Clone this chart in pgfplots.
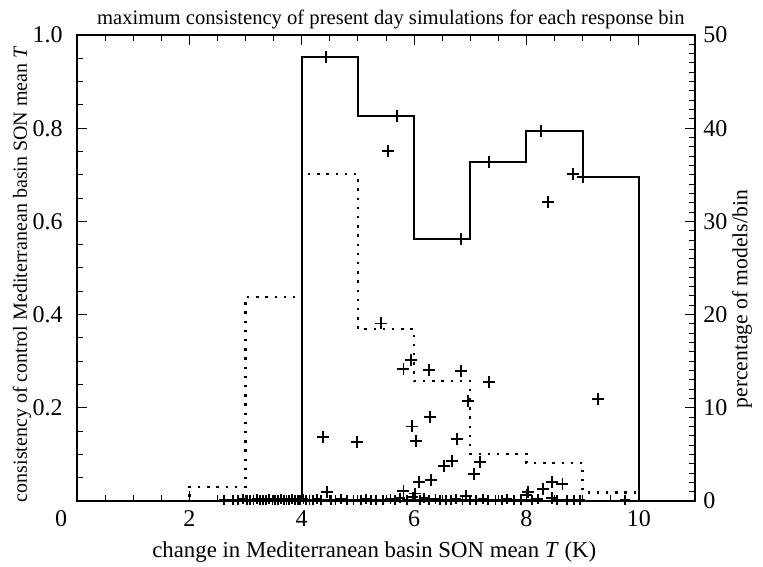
\documentclass[border=0pt]{standalone}
\usepackage{pgfplots}
\pgfplotsset{compat=1.18}
\usepackage{fontspec}
\setmainfont{Liberation Serif}
\begin{document}
\fontsize{11}{13}\selectfont
\begin{tikzpicture}
\useasboundingbox (-38.5pt,-32.5pt) rectangle (343pt,250.5pt);
\pgfplotsset{
  common/.style={
    width=309pt, height=233pt, scale only axis,
    at={(0,0)}, anchor=south west,
    xmin=0, xmax=11,
    tick align=inside,
    major tick length=5pt, minor tick length=3pt,
    every tick/.style={black, line width=0.5pt},
    axis line style={line width=0.7pt},
    /pgf/number format/assume math mode=true,
    tick label style={font=\fontsize{12}{14}\selectfont},
  }
}
\begin{axis}[common,
  ymin=0, ymax=1,
  xtick={0,2,4,6,8,10},
  xticklabels={\makebox[0pt][r]{0\kern5pt},2,4,6,8,10},
  minor x tick num=3,
  xtick pos=both,
  xticklabel style={anchor=base, yshift=-12.5pt},
  ytick={0,0.2,0.4,0.6,0.8,1.0},
  yticklabels={,0.2,0.4,0.6,0.8,1.0},
  yticklabel style={anchor=east, inner sep=0pt, xshift=-7pt},
  minor y tick num=3,
  ytick pos=left,
  xlabel={change in Mediterranean basin SON mean \textit{T} (K)},
  xlabel style={font=\fontsize{11.4}{13}\selectfont, at={(0.481,0)}, anchor=base, yshift=-28pt},
  ylabel={consistency of control Mediterranean basin SON mean \textit{T}},
  ylabel style={font=\fontsize{10}{12}\selectfont, at={(0,0.487)}, anchor=center, yshift=27.5pt},
  title={maximum consistency of present day simulations for each response bin},
  every axis title shift=0pt,
  title style={font=\fontsize{10.3}{12}\selectfont, at={(0.508,1)}, anchor=base, yshift=5pt},
  clip=false,
]
% solid histogram: maximum consistency per bin
\addplot[black, line width=1pt, mark=none] coordinates {
  (4,0) (4,0.953) (5,0.953) (5,0.826) (6,0.826) (6,0.562) (7,0.562)
  (7,0.727) (8,0.727) (8,0.794) (9,0.794) (9,0.696) (10,0.696) (10,0)
};
% scatter of individual simulations
\addplot[only marks, mark=+, mark size=3pt, black, line width=0.9pt] table {
x y
4.43 0.953
5.70 0.826
5.53 0.751
6.83 0.562
7.34 0.727
8.38 0.641
8.83 0.702
9.01 0.696
8.26 0.794
9.28 0.219
5.41 0.381
5.95 0.303
5.81 0.283
6.27 0.281
6.83 0.279
7.34 0.256
6.96 0.215
6.29 0.180
5.96 0.160
4.38 0.138
4.99 0.127
6.04 0.129
6.76 0.133
6.68 0.086
6.53 0.075
7.17 0.083
7.06 0.058
6.30 0.045
6.09 0.040
5.81 0.022
6.01 0.016
4.45 0.019
8.03 0.020
8.30 0.026
8.46 0.041
8.64 0.036
8.45 0.006
8.00 0.013
6.93 0.010
};
\addplot[only marks, mark=+, mark size=2.5pt, black, line width=0.9pt] table {
x y
2.62 0.002
2.78 0.003
2.86 0.002
2.95 0.004
3.02 0.002
3.08 0.003
3.14 0.002
3.20 0.004
3.26 0.002
3.31 0.003
3.37 0.002
3.42 0.004
3.48 0.002
3.53 0.003
3.58 0.002
3.63 0.004
3.68 0.002
3.73 0.003
3.78 0.002
3.83 0.004
3.88 0.002
3.93 0.003
3.97 0.002
4.03 0.004
4.08 0.002
4.14 0.003
4.20 0.002
4.27 0.004
4.34 0.002
4.52 0.003
4.60 0.002
4.70 0.004
4.80 0.002
4.92 0.003
5.05 0.002
5.15 0.004
5.24 0.002
5.32 0.003
5.45 0.002
5.58 0.004
5.66 0.002
5.75 0.006
5.88 0.003
5.98 0.008
6.10 0.003
6.18 0.006
6.26 0.002
6.38 0.004
6.46 0.002
6.57 0.003
6.65 0.002
6.74 0.004
6.86 0.002
6.99 0.003
7.10 0.002
7.22 0.004
7.32 0.002
7.45 0.003
7.56 0.002
7.66 0.004
7.78 0.002
7.90 0.003
8.10 0.002
8.20 0.004
8.55 0.002
8.72 0.003
8.85 0.002
8.95 0.003
9.75 0.002
};
\end{axis}
\begin{axis}[common,
  ymin=0, ymax=50,
  axis x line=none,
  ytick={0,10,...,50},
  minor y tick num=9,
  ytick pos=right,
  yticklabel pos=right,
  yticklabel style={anchor=west, inner sep=0pt, xshift=4pt},
  ylabel={percentage of models/bin},
  ylabel style={font=\fontsize{10.8}{13}\selectfont, at={(1,0.433)}, anchor=center, yshift=-23.5pt},
  clip=false,
]
\addplot[black, line width=1.2pt, dash pattern=on 1.2pt off 3.4pt, mark=none] coordinates {
  (0.6,0) (2,0) (2,1.5) (3,1.5) (3,21.9) (4,21.9) (4,35.1) (5,35.1)
  (5,18.45) (6,18.45) (6,12.9) (7,12.9) (7,5.04) (8,5.04) (8,4.08) (9,4.08)
  (9,0.93) (10,0.93) (10,0)
};
\end{axis}
\end{tikzpicture}
\end{document}
